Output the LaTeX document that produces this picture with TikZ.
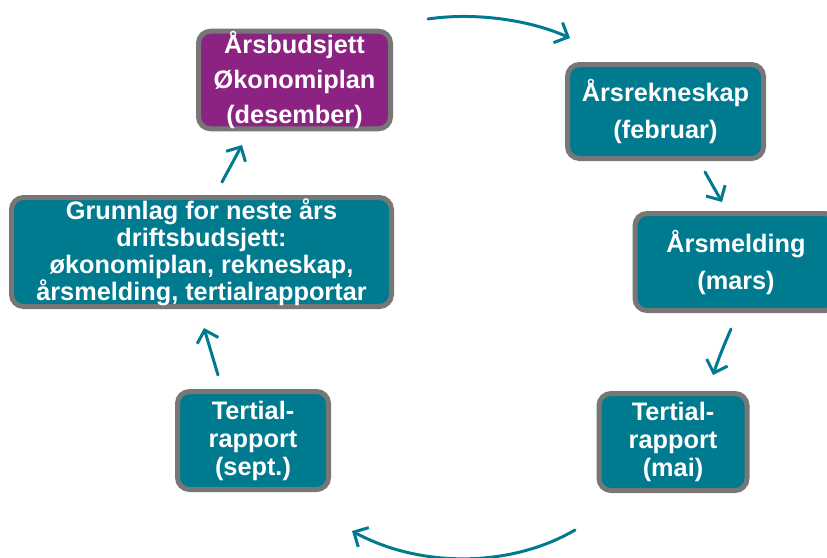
\documentclass[tikz,border=0pt]{standalone}
\usepackage{fontspec}
\setmainfont{Liberation Sans}
\usetikzlibrary{arrows.meta}
\definecolor{teal1}{HTML}{007A8E}
\definecolor{purp}{HTML}{8C2383}
\definecolor{bordergray}{HTML}{777777}
\tikzset{
  box/.style={draw=bordergray, line width=5pt, rounded corners=12pt, fill=teal1,
    text=white, align=center, inner sep=0pt},
  lsp/.style={font=\bfseries\fontsize{25.3}{#1}\selectfont},
  purplebox/.style={box, fill=purp},
  flow/.style={draw=teal1, line width=3pt, line cap=round,
    -{Straight Barb[length=11pt,width=22pt,line width=3pt]}}
}
\begin{document}
\begin{tikzpicture}[x=1pt,y=-1pt]
\useasboundingbox (0,0) rectangle (827,557);
\node[purplebox, lsp=35, minimum width=192pt, minimum height=97pt] (a) at (294.5,80)
  {Årsbudsjett\\Økonomiplan\\(desember)};
\node[box, lsp=37, minimum width=196pt, minimum height=94pt] (b) at (665.5,111.5)
  {Årsrekneskap\\(februar)};
\node[box, lsp=37, minimum width=202pt, minimum height=97pt] (c) at (736,262)
  {Årsmelding\\(mars)};
\node[box, lsp=28, minimum width=148pt, minimum height=97pt] (d) at (673,442)
  {Tertial-\\rapport\\(mai)};
\node[box, lsp=28, minimum width=151pt, minimum height=98pt] (e) at (253,440.5)
  {Tertial-\\rapport\\(sept.)};
\node[box, lsp=27, minimum width=380pt, minimum height=109pt] (f) at (201.5,252)
  {Grunnlag for neste års\\driftsbudsjett:\\økonomiplan, rekneskap,\\årsmelding, tertialrapportar};
% connectors
\coordinate (t1) at (428,19);
\coordinate (t2) at (570,38);
\draw[flow] (t1) .. controls (475,12) and (530,20) .. (t2);
\coordinate (bc1) at (705,172);
\coordinate (bc2) at (722,202);
\draw[flow] (bc1) -- (bc2);
\coordinate (cd1) at (731,329);
\coordinate (cd2) at (713,375);
\draw[flow] (cd1) .. controls (724,345) and (718,360) .. (cd2);
\coordinate (de1) at (575,530);
\coordinate (de2) at (352,531);
\draw[flow] (de1) .. controls (510,568) and (420,568) .. (de2);
\coordinate (ef1) at (218,375);
\coordinate (ef2) at (204,328);
\draw[flow] (ef1) -- (ef2);
\coordinate (fa1) at (222,182);
\coordinate (fa2) at (242,145);
\draw[flow] (fa1) -- (fa2);
\end{tikzpicture}
\end{document}
